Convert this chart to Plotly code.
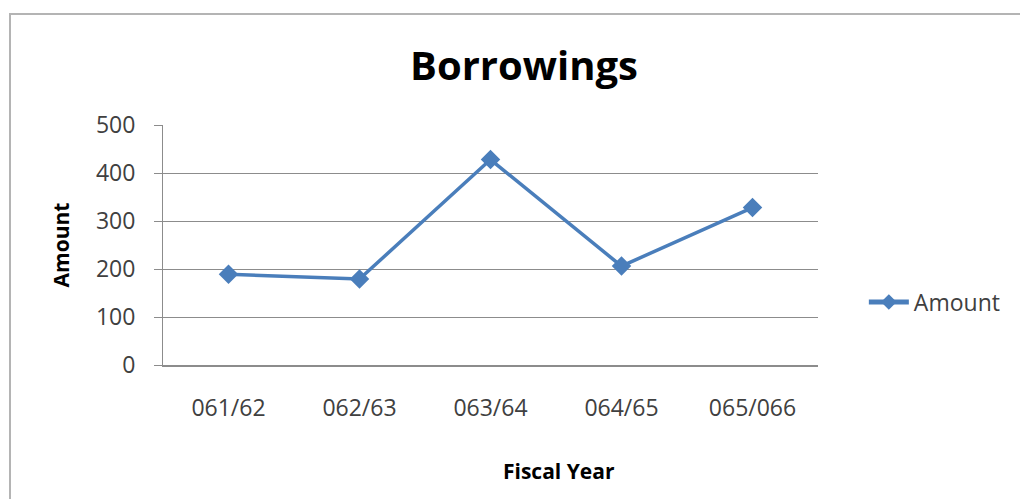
import plotly.graph_objects as go

# Borrowings by fiscal year
fiscal_years = ["061/62", "062/63", "063/64", "064/65", "065/066"]
amounts = [189, 179, 428, 206, 328]
y_ticks = [0, 100, 200, 300, 400, 500]

BLUE = "#4A7EBB"
GRID = "#8C8C8C"
TEXT = "#404040"
FONT = "Open Sans"

fig = go.Figure()
fig.add_trace(go.Scatter(
    x=fiscal_years,
    y=amounts,
    mode="lines+markers",
    name="Amount",
    line=dict(color=BLUE, width=3.5),
    marker=dict(symbol="diamond", size=15, color=BLUE),
))

fig.update_layout(
    width=1020,
    height=499,
    margin=dict(l=163, r=202, t=125, b=134),
    paper_bgcolor="white",
    plot_bgcolor="white",
    font=dict(family=FONT, color=TEXT, size=23),
    title=dict(
        text="<b>Borrowings</b>",
        x=524 / 1020,
        xanchor="center",
        y=1 - 66 / 499,
        yanchor="middle",
        font=dict(family=FONT, size=40, color="#000000"),
    ),
    showlegend=True,
    legend=dict(
        x=1.07,
        xanchor="left",
        y=0.2625,
        yanchor="middle",
        font=dict(family=FONT, size=23, color=TEXT),
        bgcolor="rgba(0,0,0,0)",
        itemsizing="constant",
        itemwidth=40,
    ),
    xaxis=dict(
        type="category",
        range=[-0.5, len(fiscal_years) - 0.5],
        showgrid=False,
        showline=True,
        linecolor=GRID,
        linewidth=1.5,
        ticks="",
        ticklabelstandoff=22,
        tickfont=dict(family=FONT, size=23, color=TEXT),
        zeroline=False,
    ),
    yaxis=dict(
        range=[0, 500],
        tickvals=y_ticks,
        showgrid=True,
        gridcolor=GRID,
        gridwidth=1,
        showline=True,
        linecolor=GRID,
        linewidth=1,
        ticks="outside",
        ticklen=8,
        tickcolor=GRID,
        ticklabelstandoff=14,
        tickfont=dict(family=FONT, size=23, color=TEXT),
        zeroline=False,
        title=dict(
            text="<b>Amount</b>",
            standoff=20,
            font=dict(family=FONT, size=21, color="#000000"),
        ),
    ),
    annotations=[
        dict(
            text="<b>Fiscal Year</b>",
            xref="paper", yref="paper",
            x=(559 - 163) / 655, y=(365 - 471) / 240,
            xanchor="center", yanchor="middle",
            showarrow=False,
            font=dict(family=FONT, size=21, color="#000000"),
        )
    ],
    shapes=[
        # chart-area frame (left and top edges visible)
        dict(
            type="rect", xref="paper", yref="paper",
            x0=(10 - 163) / 655, x1=(1030 - 163) / 655,
            y0=(365 - 510) / 240, y1=(365 - 14) / 240,
            line=dict(color="#B4B4B4", width=2),
            fillcolor="rgba(0,0,0,0)",
            layer="below",
        )
    ],
)

fig.write_html("out.html")
